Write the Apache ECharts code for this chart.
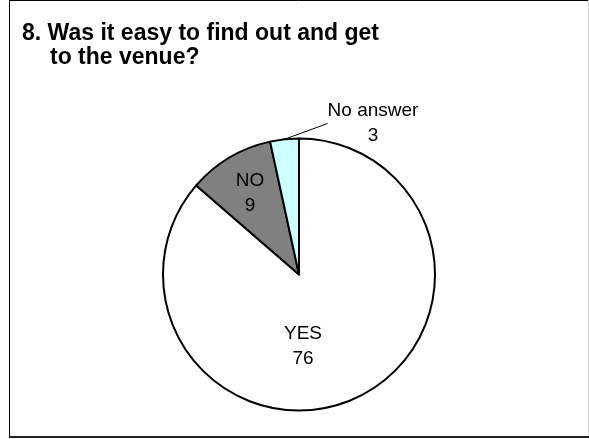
<!DOCTYPE html>
<html>
<head>
<meta charset="utf-8">
<style>
html,body{margin:0;padding:0;background:#fff;}
#chart{width:589px;height:439px;}
</style>
<script src="https://cdn.jsdelivr.net/npm/echarts@6/dist/echarts.min.js"></script>
</head>
<body>
<div id="chart"></div>
<script>
// Data
const categories = ['YES', 'NO', 'No answer'];
const values = [76, 9, 3];
const titleLines = ['8. Was it easy to find out and get', 'to the venue?'];

// Styles
const sliceColors = ['#ffffff', '#808080', '#ccffff'];
const CX = 299, CY = 274.5, R = 136;
const labelOffsets = [[4, 72], [-49, -81], [74, -151]];
const FONT = '"Liberation Sans", Arial, sans-serif';

const chart = echarts.init(document.getElementById('chart'), null, {renderer: 'canvas'});

const data = categories.map((c, i) => ({
  name: c,
  value: values[i],
  itemStyle: {color: sliceColors[i]},
  label: i === 2 ? {position: 'outside'} : {position: 'inside'},
  labelLine: {show: i === 2}
}));

chart.setOption({
  animation: false,
  title: [
    {text: titleLines[0], left: 22, top: 22, padding: 0,
     textStyle: {fontFamily: FONT, fontWeight: 'bold', fontSize: 23, lineHeight: 24, color: '#000'}},
    {text: titleLines[1], left: 50, top: 46, padding: 0,
     textStyle: {fontFamily: FONT, fontWeight: 'bold', fontSize: 23, lineHeight: 24, color: '#000'}}
  ],
  graphic: [
    {type: 'line', shape: {x1: 9, y1: 0.5, x2: 588, y2: 0.5}, style: {stroke: '#000', lineWidth: 1}, silent: true},
    {type: 'line', shape: {x1: 9.5, y1: 0, x2: 9.5, y2: 437}, style: {stroke: '#000', lineWidth: 1}, silent: true},
    {type: 'line', shape: {x1: 9, y1: 437, x2: 589, y2: 437}, style: {stroke: '#222', lineWidth: 2}, silent: true},
    {type: 'line', shape: {x1: 588.5, y1: 0, x2: 588.5, y2: 436}, style: {stroke: '#d8d8d8', lineWidth: 1}, silent: true}
  ],
  series: [{
    type: 'pie',
    silent: true,
    center: [CX, CY],
    radius: R,
    startAngle: 90,
    clockwise: true,
    avoidLabelOverlap: false,
    itemStyle: {borderColor: '#000', borderWidth: 2},
    label: {
      show: true,
      formatter: '{b}\n{c}',
      fontFamily: FONT,
      fontSize: 19,
      lineHeight: 25,
      color: '#000'
    },
    labelLine: {
      length: 8,
      length2: 0,
      smooth: false,
      lineStyle: {color: '#000', width: 1}
    },
    labelLayout: function (params) {
      const o = labelOffsets[params.dataIndex];
      return {x: CX + o[0], y: CY + o[1], align: 'center', verticalAlign: 'middle'};
    },
    data: data
  }]
});
</script>
</body>
</html>
